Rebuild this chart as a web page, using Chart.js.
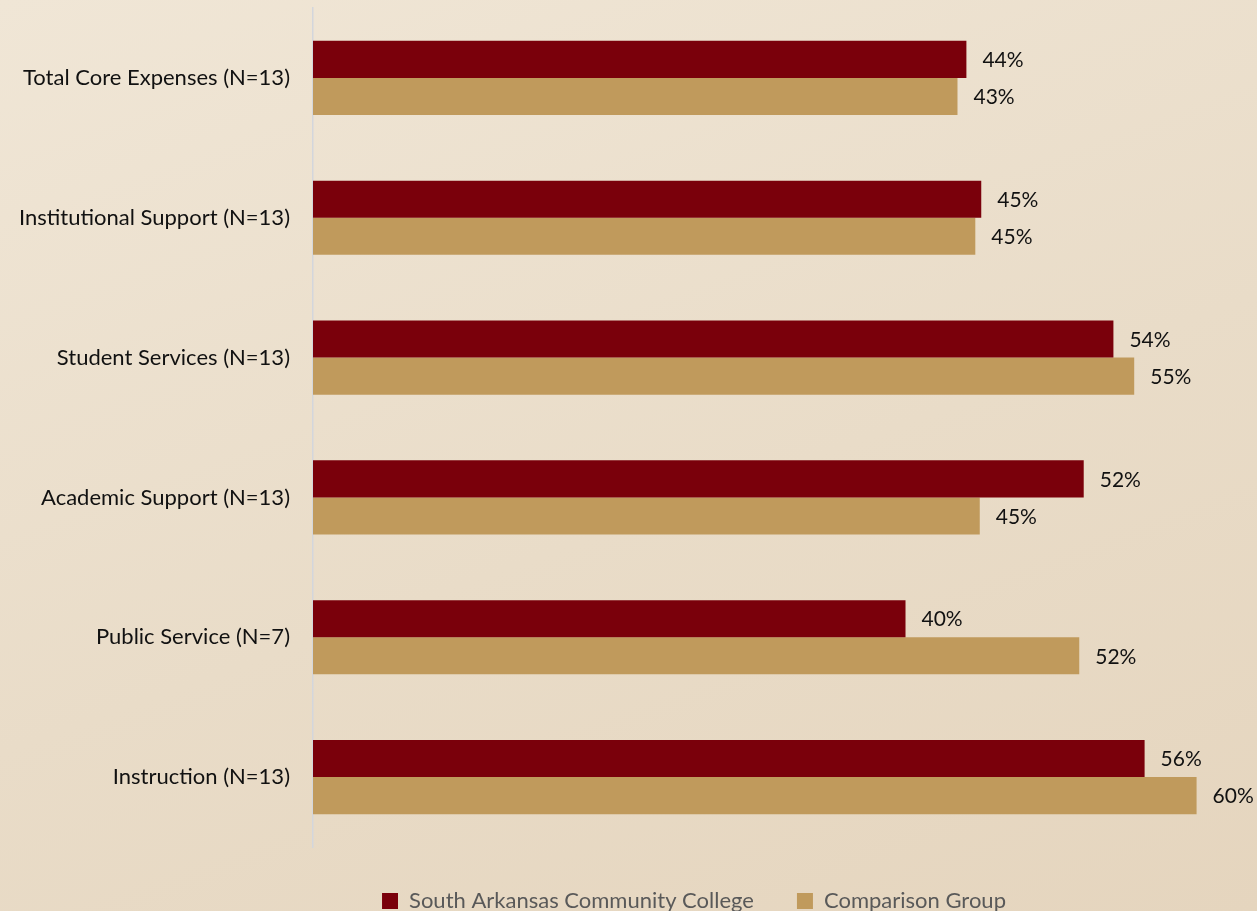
<!DOCTYPE html>
<html>
<head>
<meta charset="utf-8">
<script src="https://cdn.jsdelivr.net/npm/chart.js@4/dist/chart.umd.min.js"></script>
<style>
  html, body { margin: 0; padding: 0; }
  body {
    width: 1257px; height: 911px; overflow: hidden;
    background: linear-gradient(160deg, #f0e6d6 0%, #e9dcc8 55%, #e5d5be 100%);
  }
  #wrap { width: 1257px; height: 911px; }
</style>
</head>
<body>
<div id="wrap"><canvas id="myChart"></canvas></div>
<script>
const categories = [
  'Total Core Expenses (N=13)',
  'Institutional Support (N=13)',
  'Student Services (N=13)',
  'Academic Support (N=13)',
  'Public Service (N=7)',
  'Instruction (N=13)'
];
const collegeValues = [44.0, 45.0, 53.9, 51.9, 39.9, 56.0];
const comparisonValues = [43.4, 44.6, 55.3, 44.9, 51.6, 59.5];
const seriesNames = ['South Arkansas Community College', 'Comparison Group'];

const FONT = 'Lato, "Open Sans", sans-serif';

// percent labels drawn just past the end of each bar
const valueLabels = {
  id: 'valueLabels',
  afterDatasetsDraw(chart) {
    const c = chart.ctx;
    c.save();
    c.font = '21px ' + FONT;
    c.fillStyle = '#111';
    c.textAlign = 'left';
    c.textBaseline = 'middle';
    chart.data.datasets.forEach((ds, i) => {
      chart.getDatasetMeta(i).data.forEach((bar, j) => {
        c.fillText(Math.round(ds.data[j]) + '%', bar.x + 16, bar.y + 1);
      });
    });
    c.restore();
  }
};

// the original legend sits a bit right of the canvas centre
const shiftLegend = {
  id: 'shiftLegend',
  afterLayout(chart) {
    if (chart.legend) {
      chart.legend.left += 92;
      chart.legend.right += 92;
    }
  }
};

const ctx = document.getElementById('myChart');

new Chart(ctx, {
  type: 'bar',
  data: {
    labels: categories,
    datasets: [{
      label: seriesNames[0],
      data: collegeValues,
      backgroundColor: '#7a000b',
      categoryPercentage: 0.53,
      barPercentage: 1.0
    }, {
      label: seriesNames[1],
      data: comparisonValues,
      backgroundColor: '#c09a5c',
      categoryPercentage: 0.53,
      barPercentage: 1.0
    }]
  },
  options: {
    indexAxis: 'y',
    responsive: true,
    maintainAspectRatio: false,
    animation: false,
    layout: { padding: { top: 8, right: 53, bottom: -11, left: 0 } },
    scales: {
      x: { display: false, min: 0, max: 60 },
      y: {
        grid: { display: false },
        border: { display: true, color: '#d3d6dc', width: 1.5 },
        ticks: { color: '#111', font: { family: FONT, size: 22 }, padding: 15 },
        afterFit: s => { s.width = 313; s.paddingTop = 0; s.paddingBottom = 0; }
      }
    },
    plugins: {
      legend: {
        position: 'bottom',
        labels: {
          color: '#595959',
          font: { family: FONT, size: 22 },
          boxWidth: 16,
          boxHeight: 16,
          padding: 43
        }
      },
      tooltip: { enabled: false }
    }
  },
  plugins: [valueLabels, shiftLegend]
});
</script>
</body>
</html>
